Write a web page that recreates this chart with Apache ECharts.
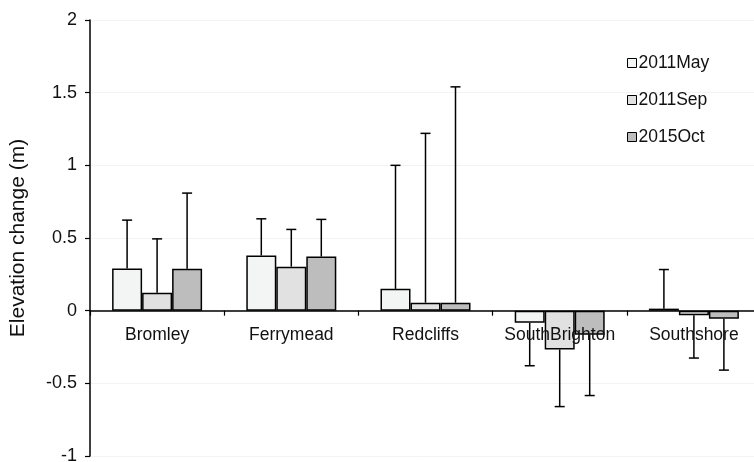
<!DOCTYPE html>
<html>
<head>
<meta charset="utf-8">
<script src="https://cdn.jsdelivr.net/npm/echarts@6/dist/echarts.min.js"></script>
<style>
  html, body { margin: 0; padding: 0; background: #fff; }
  #chart { width: 754px; height: 462px; }
</style>
</head>
<body>
<div id="chart"></div>
<script>
// Sites along the estuary
const sites = ['Bromley', 'Ferrymead', 'Redcliffs', 'SouthBrighton', 'Southshore'];
const surveys = ['2011May', '2011Sep', '2015Oct'];

// Mean elevation change (m) per survey
const may2011 = [0.29, 0.38, 0.15, -0.083, 0.014];
const sep2011 = [0.124, 0.303, 0.055, -0.267, -0.032];
const oct2015 = [0.288, 0.372, 0.055, -0.166, -0.055];

// End of the one-sided error bar (mean ± SD) per survey
const may2011Err = [0.623, 0.632, 1.0, -0.379, 0.283];
const sep2011Err = [0.494, 0.559, 1.22, -0.66, -0.326];
const oct2015Err = [0.809, 0.628, 1.54, -0.584, -0.409];

const yTicks = { min: -1, max: 2, interval: 0.5 };

const fills = ['#f3f5f4', '#e1e1e1', '#bdbdbd'];
const BAR_W = 30;
const FONT = 'Liberation Sans, Arial, sans-serif';

const means = [may2011, sep2011, oct2015];
const errs = [may2011Err, sep2011Err, oct2015Err];

const chart = echarts.init(document.getElementById('chart'), null, { renderer: 'canvas' });

const barSeries = surveys.map((name, i) => ({
  name: name,
  type: 'bar',
  data: means[i],
  barWidth: BAR_W,
  barGap: '0%',
  z: 3,
  itemStyle: { color: fills[i], borderColor: '#000', borderWidth: 1.5 }
}));

const errSeries = surveys.map((name, i) => ({
  type: 'custom',
  name: name + ' SD',
  z: 2,
  silent: true,
  data: sites.map((s, k) => [k, means[i][k], errs[i][k]]),
  renderItem: function (params, api) {
    const offset = (i - 1) * BAR_W;
    const base = api.coord([api.value(0), api.value(1)]);
    const end = api.coord([api.value(0), api.value(2)]);
    const x = base[0] + offset;
    const style = { stroke: '#000', lineWidth: 1.5 };
    return {
      type: 'group',
      children: [
        { type: 'line', shape: { x1: x, y1: base[1], x2: x, y2: end[1] }, style: style },
        { type: 'line', shape: { x1: x - 5, y1: end[1], x2: x + 5, y2: end[1] }, style: style }
      ]
    };
  }
}));

// Site names sit just under the zero line, over any negative bars
const siteLabels = {
  type: 'custom',
  name: 'site names',
  z: 5,
  silent: true,
  data: sites.map((s, k) => [k, 0]),
  renderItem: function (params, api) {
    const p = api.coord([api.value(0), 0]);
    return {
      type: 'text',
      x: p[0],
      y: p[1] + 16,
      style: {
        text: sites[params.dataIndex],
        fontSize: 17.5,
        fontFamily: FONT,
        fill: '#111',
        align: 'center',
        verticalAlign: 'top'
      }
    };
  }
};

chart.setOption({
  animation: false,
  backgroundColor: '#fff',
  textStyle: { fontFamily: FONT },
  grid: { left: 90, right: -7, top: 20, bottom: 6, containLabel: false, outerBoundsMode: 'none' },
  legend: {
    data: surveys,
    orient: 'vertical',
    left: 622,
    top: 49,
    itemWidth: 9,
    itemHeight: 9,
    itemGap: 19,
    icon: 'rect',
    itemStyle: { borderColor: '#000', borderWidth: 1 },
    textStyle: { fontSize: 17.5, color: '#111', fontFamily: FONT, padding: [0, 0, 0, -3] }
  },
  xAxis: {
    type: 'category',
    data: sites,
    axisLine: { onZero: true, lineStyle: { color: '#000', width: 1.5 } },
    axisTick: { show: true, interval: 0, length: 5, lineStyle: { color: '#000', width: 1.2 } },
    axisLabel: { show: false },
    splitLine: { show: false }
  },
  yAxis: {
    type: 'value',
    min: yTicks.min,
    max: yTicks.max,
    interval: yTicks.interval,
    name: 'Elevation change (m)',
    nameLocation: 'middle',
    nameGap: 61,
    nameTextStyle: { fontSize: 21, color: '#111', fontFamily: FONT },
    axisLine: { show: true, onZero: false, lineStyle: { color: '#000', width: 1.5 } },
    axisTick: { show: true, length: 5, lineStyle: { color: '#000', width: 1.2 } },
    axisLabel: { margin: 13, fontSize: 18, color: '#111', fontFamily: FONT },
    splitLine: { show: true, lineStyle: { color: '#f3f3f3', width: 1 } }
  },
  series: errSeries.concat(barSeries).concat([siteLabels])
});
</script>
</body>
</html>
